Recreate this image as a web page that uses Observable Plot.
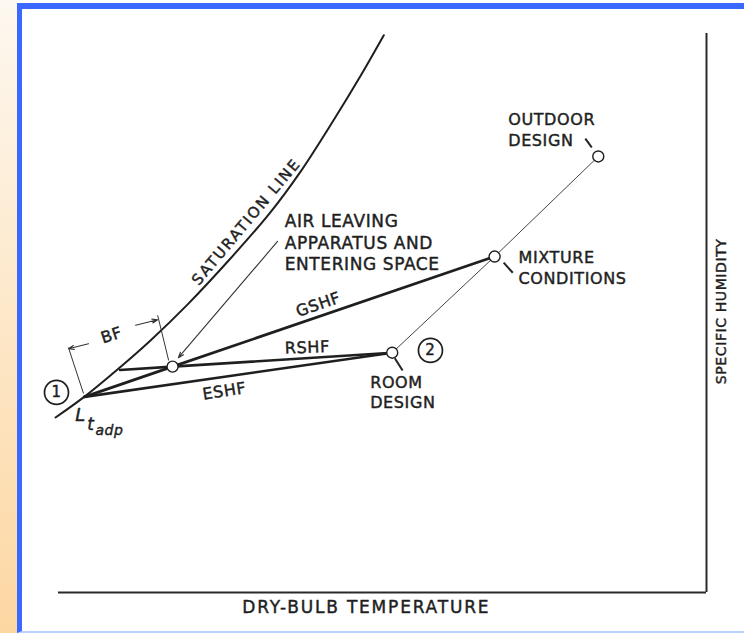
<!DOCTYPE html>
<html>
<head>
<meta charset="utf-8">
<script src="https://cdn.jsdelivr.net/npm/d3@7"></script>
<script src="https://cdn.jsdelivr.net/npm/@observablehq/plot@0.6"></script>
<style>
  html, body { margin: 0; padding: 0; background: #fff; }
  #page { position: relative; width: 744px; height: 633px; overflow: hidden; background: #fff; }
  #strip { position: absolute; left: 0; top: 0; width: 17px; height: 633px; background: linear-gradient(#fdf8f0, #fdd7a2); }
  #frame { position: absolute; left: 17px; top: 3px; width: 727px; height: 630px; box-sizing: border-box;
           border-left: 5px solid #3b68ff; border-top: 6px solid #3b68ff; border-bottom: 2px solid #bcd0ff; background: #fff; }
  #chart { position: absolute; left: 0; top: 0; }
  #chart svg text { letter-spacing: 0.6px; }
  #chart svg .wide text { letter-spacing: 1.8px; }
</style>
</head>
<body>
<div id="page">
  <div id="strip"></div>
  <div id="frame"></div>
  <div id="chart"></div>
</div>
<script>
// Saturation curve (dry-bulb, specific humidity) in relative chart units 0..100
const satTemp = [-0.46, 3.86, 9.1, 14.2, 19.9, 26.5, 32.7, 37.3, 42.4, 46.6, 50.2];
const satHum  = [31.3, 34.9, 39.9, 45.1, 51.5, 59.7, 68.0, 75.2, 84.4, 92.4, 99.7];

// State points: apparatus dew point (1), supply air, room design (2), mixture, outdoor design
const stateNames = ["ADP", "Supply", "Room", "Mixture", "Outdoor"];
const stateTemp  = [4.0, 17.6, 51.5, 67.3, 83.3];
const stateHum   = [35.0, 40.4, 42.9, 60.1, 78.0];

// Process lines
const gshfTemp = [4.0, 17.6, 67.3],  gshfHum = [35.0, 40.4, 60.1];
const rshfTemp = [9.5, 17.6, 51.5],  rshfHum = [39.8, 40.4, 42.9];
const eshfTemp = [4.0, 51.5],        eshfHum = [35.0, 42.9];
const mixTemp  = [51.5, 67.3, 83.3], mixHum  = [42.9, 60.1, 78.0];

// BF extension lines [x1, y1, x2, y2]
const extX1 = [1.54, 15.3], extY1 = [43.8, 49.6];
const extX2 = [3.86, 17.0], extY2 = [35.6, 41.5];
// label leader ticks
const tickX1 = [81.3, 68.7, 51.9], tickY1 = [81.2, 59.0, 41.9];
const tickX2 = [82.3, 70.1, 53.1], tickY2 = [79.6, 57.2, 39.7];
// arrows: BF dimension (two halves) and supply-air pointer
const arrowX1 = [4.63, 11.9, 33.8];
const arrowY1 = [44.5, 47.8, 62.8];
const arrowX2 = [1.54, 15.3, 18.5];
const arrowY2 = [43.6, 48.8, 42.0];

// Text labels
const xLabel = "DRY-BULB TEMPERATURE";
const yLabel = "SPECIFIC HUMIDITY";

const toPts = (xs, ys) => xs.map((x, i) => ({x, y: ys[i]}));
const toSegs = (x1, y1, x2, y2) => x1.map((_, i) => ({x1: x1[i], y1: y1[i], x2: x2[i], y2: y2[i]}));
const sat = toPts(satTemp, satHum);
const states = stateNames.map((n, i) => ({name: n, x: stateTemp[i], y: stateHum[i]}));

const ink = "#1f1f1f";
const font = "DejaVu Sans";
const T = (text, x, y, o = {}) => Plot.text([text], {
  x: () => x, y: () => y, text: d => d, fill: ink, stroke: ink, strokeWidth: 0.45,
  fontFamily: font, fontSize: 16, ...o
});

const plot = Plot.plot({
  width: 744,
  height: 633,
  marginLeft: 58,
  marginRight: 38,
  marginTop: 33,
  marginBottom: 41,
  x: {domain: [0, 100], axis: null},
  y: {domain: [0, 100], axis: null},
  style: {background: "transparent", overflow: "visible"},
  marks: [
    // axes
    Plot.ruleY([0], {x1: 0, x2: 100, stroke: "#2a2a2a", strokeWidth: 2}),
    Plot.ruleX([100], {y1: 0, y2: 100, stroke: "#2a2a2a", strokeWidth: 2}),
    // saturation line
    Plot.line(sat, {x: "x", y: "y", curve: "catmull-rom", stroke: ink, strokeWidth: 2}),
    // thin line room -> mixture -> outdoor
    Plot.line(toPts(mixTemp, mixHum), {x: "x", y: "y", stroke: "#444", strokeWidth: 1}),
    // process lines
    Plot.line(toPts(eshfTemp, eshfHum), {x: "x", y: "y", stroke: ink, strokeWidth: 2.6}),
    Plot.line(toPts(rshfTemp, rshfHum), {x: "x", y: "y", stroke: ink, strokeWidth: 2.6}),
    Plot.line(toPts(gshfTemp, gshfHum), {x: "x", y: "y", stroke: ink, strokeWidth: 2.8}),
    // leaders
    Plot.link(toSegs(extX1, extY1, extX2, extY2), {x1: "x1", y1: "y1", x2: "x2", y2: "y2", stroke: "#333", strokeWidth: 1}),
    Plot.link(toSegs(tickX1, tickY1, tickX2, tickY2), {x1: "x1", y1: "y1", x2: "x2", y2: "y2", stroke: "#222", strokeWidth: 2}),
    Plot.arrow(toSegs(arrowX1, arrowY1, arrowX2, arrowY2), {x1: "x1", y1: "y1", x2: "x2", y2: "y2", stroke: "#333", strokeWidth: 1.1, headLength: 8, headAngle: 40}),
    // state points
    Plot.dot(states.slice(1), {x: "x", y: "y", r: 5.5, fill: "white", stroke: ink, strokeWidth: 1.4}),
    // circled numbers
    Plot.dot([{x: -0.31, y: 35.8}, {x: 57.4, y: 43.3}], {x: "x", y: "y", r: 12, fill: "white", stroke: ink, strokeWidth: 1.7}),
    T("1", -0.31, 35.8, {fontSize: 15}),
    T("2", 57.4, 43.3, {fontSize: 15}),
    // labels
    T("AIR LEAVING\nAPPARATUS AND\nENTERING SPACE", 34.9, 62.7, {fontSize: 17, textAnchor: "start", lineHeight: 1.27}),
    T("OUTDOOR\nDESIGN", 69.4, 82.9, {textAnchor: "start", lineHeight: 1.31}),
    T("MIXTURE\nCONDITIONS", 71.0, 58.2, {textAnchor: "start", lineHeight: 1.31}),
    T("ROOM\nDESIGN", 48.1, 35.9, {textAnchor: "start", lineHeight: 1.2}),
    T("GSHF", 40.1, 51.5, {rotate: -19}),
    T("RSHF", 38.4, 43.8, {rotate: -2}),
    T("ESHF", 25.6, 36.0, {rotate: -9}),
    T("BF", 8.2, 46.0, {rotate: -18, fontSize: 16}),
    T("SATURATION LINE", 29.0, 66.3, {rotate: -50, fontSize: 15, className: "wide"}),
    T("L", 3.4, 31.8, {fontSize: 18, fontStyle: "italic"}),
    T("t", 5.0, 30.0, {fontSize: 17, fontStyle: "italic"}),
    T("adp", 5.7, 29.0, {fontSize: 14, fontStyle: "italic", textAnchor: "start"}),
    // axis titles
    T(xLabel, 47.5, 0, {dy: 15, fontSize: 17, className: "wide"}),
    T(yLabel, 100, 50.3, {dx: 15, rotate: -90, fontSize: 14})
  ]
});
document.getElementById("chart").appendChild(plot);
</script>
</body>
</html>
